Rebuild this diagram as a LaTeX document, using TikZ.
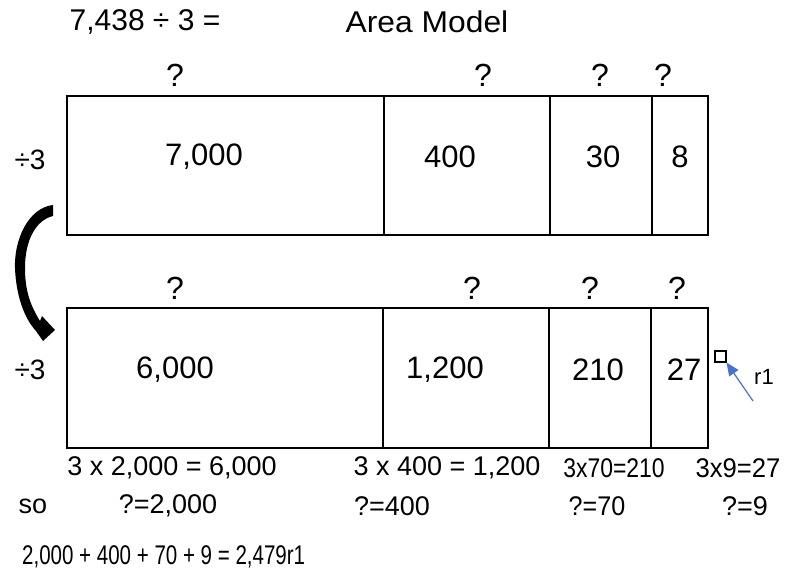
\documentclass[tikz,border=0pt]{standalone}
\usepackage{fontspec}
\usepackage{graphicx}
\setmainfont{Liberation Sans}
\usetikzlibrary{arrows.meta}
\definecolor{arrowblue}{RGB}{72,114,206}
\tikzset{
  cell/.style={draw=black, line width=1.7pt, inner sep=0pt, anchor=north west, minimum height=139pt},
  big/.style={font=\fontsize{31}{33}\selectfont, inner sep=0pt},
  ttl/.style={font=\fontsize{30}{32}\selectfont, inner sep=0pt},
  mid/.style={font=\fontsize{28}{30}\selectfont, inner sep=0pt},
  qm/.style={font=\fontsize{32}{34}\selectfont, inner sep=0pt},
  eq/.style={font=\fontsize{27}{29}\selectfont, inner sep=0pt},
}
\newcommand{\sq}[2]{\scalebox{#1}[1]{#2}}
\begin{document}
\begin{tikzpicture}[x=1pt,y=-1pt]
\useasboundingbox[fill=white] (0,0) rectangle (785,575);
% title
\node[ttl] (title1) at (145,22) {7,438 ÷ 3 =};
\node[ttl] (title2) at (427,22) {\sq{1.06}{Area Model}};
% top row cells
\node[cell, minimum width=317pt] (t1) at (66,95) {};
\node[cell, minimum width=166pt] (t2) at (383,95) {};
\node[cell, minimum width=102pt] (t3) at (549,95) {};
\node[cell, minimum width=56pt] (t4) at (651,95) {};
% bottom row cells
\node[cell, minimum width=316pt, minimum height=140pt] (b1) at (66,307) {};
\node[cell, minimum width=166pt, minimum height=140pt] (b2) at (382,307) {};
\node[cell, minimum width=102pt, minimum height=140pt] (b3) at (548,307) {};
\node[cell, minimum width=57pt, minimum height=140pt] (b4) at (650,307) {};
% question marks
\node[qm] (q1) at (175,75) {?};
\node[qm] (q2) at (483,75) {?};
\node[qm] (q3) at (600,75) {?};
\node[qm] (q4) at (663,75) {?};
\node[qm] (q5) at (175,288) {?};
\node[qm] (q6) at (472,288) {?};
\node[qm] (q7) at (590,288) {?};
\node[qm] (q8) at (677,288) {?};
% divisors
\node[mid] (d1) at (30,160) {÷3};
\node[mid] (d2) at (30,370) {÷3};
% cell values
\node[big] (v1) at (204,157) {7,000};
\node[big] (v2) at (450,157) {400};
\node[big] (v3) at (603,157) {30};
\node[big] (v4) at (680,157) {8};
\node[big] (v5) at (175,370) {6,000};
\node[big] (v6) at (445,370) {1,200};
\node[big] (v7) at (598,370) {210};
\node[big] (v8) at (684,370) {27};
% curved arrow
\fill[black] (53,205) .. controls (28,208) and (14,240) .. (15,268)
  .. controls (16,295) and (24,318) .. (36,331)
  -- (43,341) -- (55,330) -- (42,316) -- (40,321)
  .. controls (30,305) and (25,290) .. (25,268)
  .. controls (25,240) and (36,220) .. (53,216) -- cycle;
% remainder square and arrow
\node[draw, line width=2pt, minimum size=11pt, inner sep=0pt] (sq) at (720,356) {};
\node[font=\fontsize{22}{24}\selectfont, inner sep=0pt] (r1) at (764,377) {r1};
\coordinate (tail) at (753,401);
\draw[arrowblue, line width=1.2pt, -{Triangle[length=13pt,width=11pt]}] (tail) -- (sq.south east);
% computations
\node[eq] (c1) at (172,468) {3 x 2,000 = 6,000};
\node[eq] (c2) at (447,468) {3 x 400 = 1,200};
\node[eq] (c3) at (614,468) {\sq{0.85}{3x70=210}};
\node[eq] (c4) at (738,468) {\sq{0.95}{3x9=27}};
\node[eq] (so) at (33,506) {so};
\node[eq] (s1) at (168,506) {?=2,000};
\node[eq] (s2) at (392,506) {?=400};
\node[eq] (s3) at (597,506) {\sq{0.93}{?=70}};
\node[eq] (s4) at (745,506) {?=9};
\node[eq, anchor=west] (total) at (22,557) {\sq{0.76}{2,000 + 400 + 70 + 9 = 2,479r1}};
\end{tikzpicture}
\end{document}
